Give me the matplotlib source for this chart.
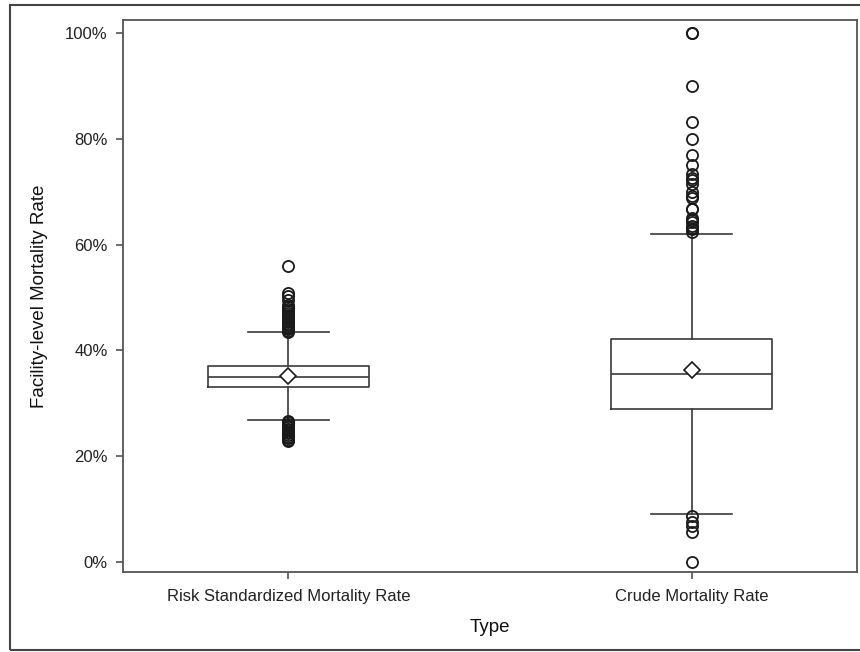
import numpy as np
import matplotlib.pyplot as plt
from matplotlib.patches import Rectangle
from matplotlib.ticker import FuncFormatter

plt.rcParams['font.family'] = ['Liberation Sans', 'DejaVu Sans']

categories = ['Risk Standardized Mortality Rate', 'Crude Mortality Rate']

# box summary values, in percent
q1 = [33.1, 28.9]
med = [35.0, 35.5]
q3 = [37.1, 42.2]
means = [35.1, 36.3]
whisk_lo = [26.8, 9.0]
whisk_hi = [43.4, 62.1]

# outliers
rsmr_outliers = [43.5, 43.7, 44.0, 44.2, 44.5, 44.8, 45.0, 45.3, 45.6, 45.9,
                 46.2, 46.5, 46.8, 47.1, 47.4, 47.8, 48.2, 48.6, 49.5, 50.3,
                 50.9, 56.0,
                 26.6, 26.4, 26.1, 25.8, 25.5, 25.2, 24.9, 24.6, 24.3, 24.0,
                 23.7, 23.4, 23.1, 22.9]
crude_outliers = [100.0, 100.0, 90.0, 83.3, 80.0, 76.9, 75.0, 73.3, 72.7, 72.2,
                  71.4, 70.0, 69.2, 68.8, 66.7, 66.7, 65.0, 64.7, 64.3, 63.6,
                  63.2, 62.9, 62.5,
                  8.6, 7.6, 6.8, 5.7, 0.0]
outliers = [rsmr_outliers, crude_outliers]

stats = []
for i in range(len(categories)):
    stats.append(dict(label=categories[i], q1=q1[i], med=med[i], q3=q3[i],
                      mean=means[i], whislo=whisk_lo[i], whishi=whisk_hi[i],
                      fliers=outliers[i]))

line_col = '#3a3a3a'
fig = plt.figure(figsize=(8.6, 6.52), dpi=100)
ax = fig.add_axes([0.143, 0.1227, 0.8535, 0.8466])

ax.bxp(stats, positions=[1, 2], widths=0.40, capwidths=0.20, showmeans=True,
       boxprops=dict(color=line_col, linewidth=1.2),
       medianprops=dict(color=line_col, linewidth=1.2),
       whiskerprops=dict(color=line_col, linewidth=1.2),
       capprops=dict(color=line_col, linewidth=1.2),
       flierprops=dict(marker='o', markerfacecolor='none', markeredgecolor='#1a1a1a',
                       markersize=8, markeredgewidth=1.3),
       meanprops=dict(marker='D', markerfacecolor='white', markeredgecolor='#1a1a1a',
                      markersize=8, markeredgewidth=1.2))

ax.set_xlim(0.59, 2.41)
ax.set_ylim(-1.9, 102.5)
ax.set_yticks([0, 20, 40, 60, 80, 100])
ax.yaxis.set_major_formatter(FuncFormatter(lambda v, p: '%d%%' % v))
ax.set_xticks([1, 2])
ax.set_xticklabels(categories)
ax.tick_params(direction='out', length=5, width=1.1, color='#444444',
               labelsize=12, labelcolor='#222222', pad=6)
ax.tick_params(axis='x', pad=7)
for s in ax.spines.values():
    s.set_color('#555555')
    s.set_linewidth(1.3)

ax.set_ylabel('Facility-level Mortality Rate', fontsize=13.5, color='#111111', labelpad=12)
ax.set_xlabel('Type', fontsize=13.5, color='#111111', labelpad=11)

# outer frame around the whole picture
fig.patches.append(Rectangle((10 / 860, 2 / 652), 1.0, 645 / 652, transform=fig.transFigure,
                             fill=False, edgecolor='#444444', linewidth=1.5, clip_on=False))

fig.savefig('out.png', dpi=100)
